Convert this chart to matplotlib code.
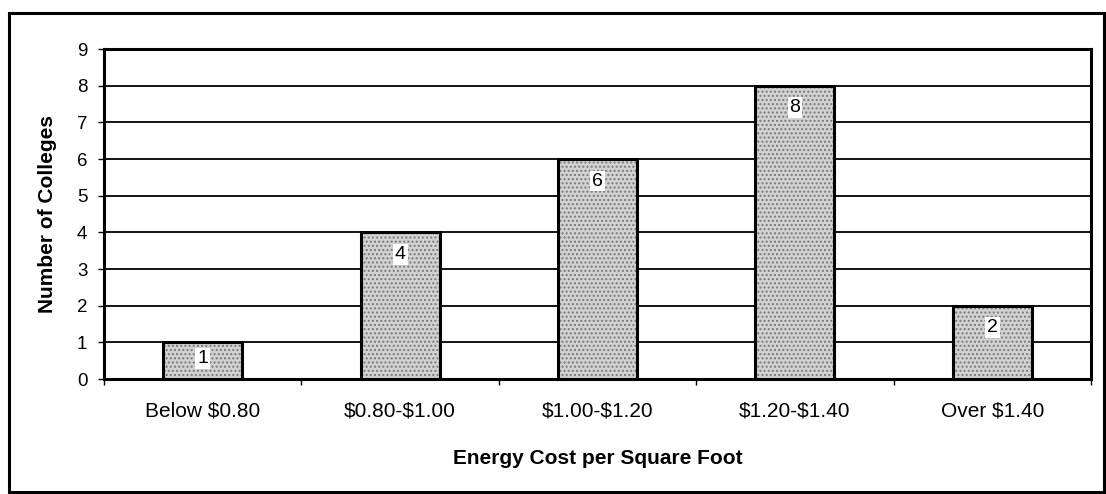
import matplotlib.pyplot as plt
from matplotlib.patches import Rectangle

plt.rcParams['font.family'] = ['Liberation Sans', 'DejaVu Sans']
plt.rcParams['text.parse_math'] = False

categories = ["Below $0.80", "$0.80-$1.00", "$1.00-$1.20", "$1.20-$1.40", "Over $1.40"]
colleges = [1, 4, 6, 8, 2]
yticks = [0, 1, 2, 3, 4, 5, 6, 7, 8, 9]

fig = plt.figure(figsize=(11.06, 4.94), dpi=100)
ax = fig.add_axes([104 / 1106, 115 / 494, 987 / 1106, 330 / 494])

x = range(len(categories))

# grid lines behind the bars
for y in yticks[1:-1]:
    ax.axhline(y, color='black', lw=1.3, zorder=1)

# stippled fill, then the black outline on top
ax.bar(x, colleges, width=0.4, color='#d2d2d2', edgecolor='#7a7a7a',
       linewidth=0, hatch='....', zorder=2)
ax.bar(x, colleges, width=0.4, facecolor='none', edgecolor='black',
       linewidth=2.2, zorder=3)

for i, v in enumerate(colleges):
    ax.text(i, v - min(0.6, v * 0.45), str(v), ha='center', va='center',
            fontsize=14, zorder=4,
            bbox=dict(boxstyle='square,pad=0.1', facecolor='white', edgecolor='none'))

ax.set_xlim(-0.5, len(categories) - 0.5)
ax.set_ylim(0, 9)
ax.set_yticks(yticks)
ax.set_yticklabels([str(t) for t in yticks], fontsize=13.5)
ax.set_xticks(list(x))
ax.set_xticklabels(categories, fontsize=15)
ax.set_xticks([i + 0.5 for i in range(-1, len(categories))], minor=True)
ax.tick_params(axis='x', which='major', length=0, pad=16)
ax.tick_params(axis='x', which='minor', length=4, width=1, direction='out')
ax.tick_params(axis='y', length=4, width=1, pad=8)

for s in ax.spines.values():
    s.set_linewidth(2.2)
    s.set_color('black')

ax.set_xlabel("Energy Cost per Square Foot", fontsize=15, fontweight='bold', labelpad=21)
ax.set_ylabel("Number of Colleges", fontsize=15, fontweight='bold', labelpad=14)

# outer chart frame
fig.patches.append(Rectangle((9 / 1106, 2 / 494), 1095 / 1106, 479 / 494,
                             transform=fig.transFigure, fill=False,
                             edgecolor='black', linewidth=2.2))

fig.savefig('out.png', dpi=100)
